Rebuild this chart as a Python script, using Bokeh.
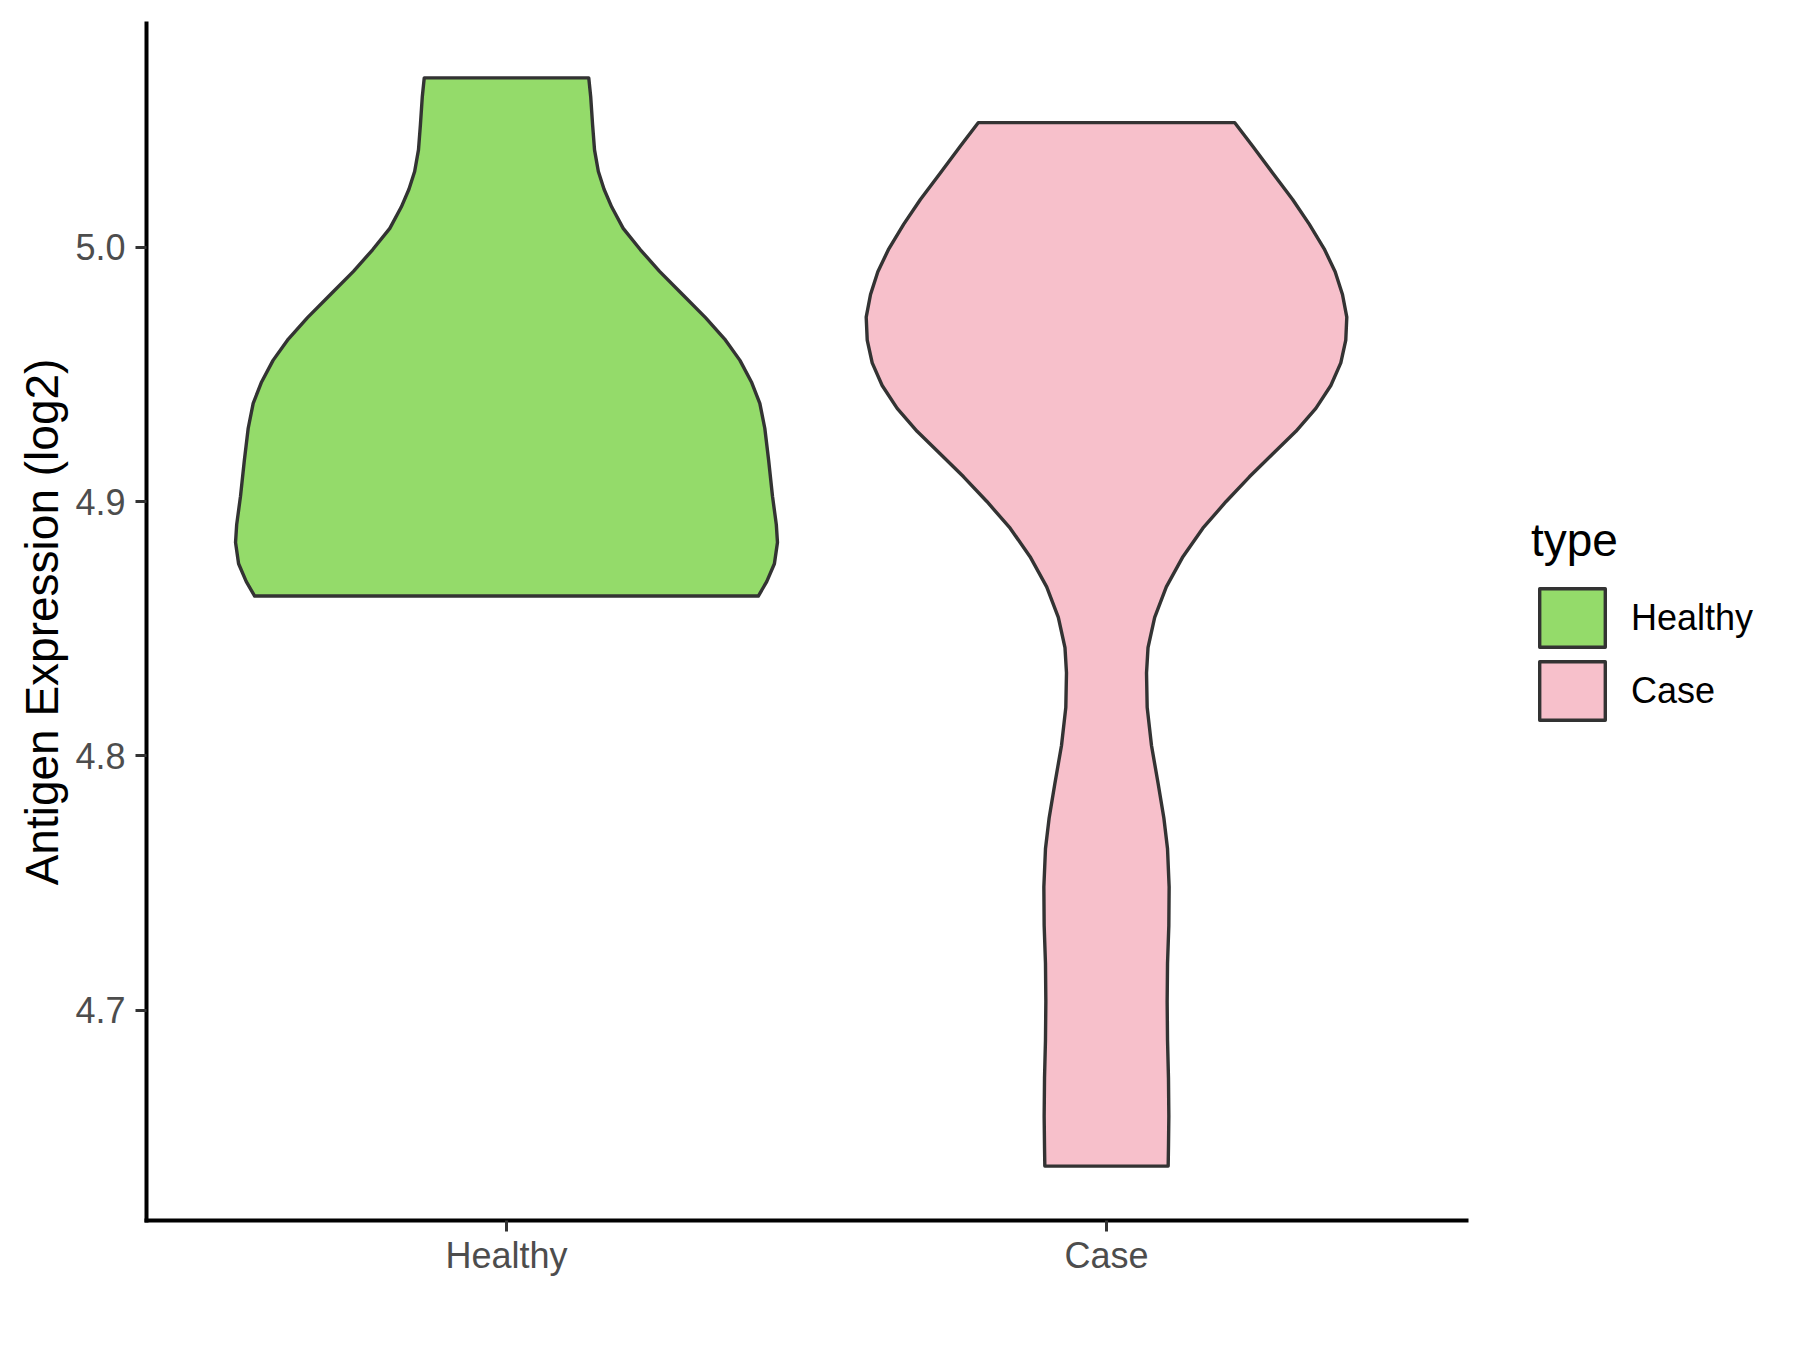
from bokeh.plotting import figure
from bokeh.models import Range1d, FixedTicker, Legend, LegendItem
from bokeh.embed import file_html
from bokeh.resources import INLINE

# ---------------- data ----------------
categories = ["Healthy", "Case"]
cat_pos = [1, 2]
fill_colors = ["#94DB6A", "#F7C0CB"]

# Healthy violin: expression levels (top -> bottom) and half-widths (x units)
healthy_y = [5.0667, 5.0594, 5.0482, 5.0384, 5.0299, 5.0229, 5.0159, 5.0075,
             4.9991, 4.9906, 4.9815, 4.9724, 4.9640, 4.9556, 4.9471, 4.9387,
             4.9289, 4.9163, 4.9022, 4.8910, 4.8840, 4.8756, 4.8686, 4.8629]
healthy_hw = [0.1371, 0.1403, 0.1435, 0.1467, 0.1531, 0.1626, 0.1754, 0.1945,
              0.2232, 0.2551, 0.2934, 0.3317, 0.3636, 0.3891, 0.4082, 0.4222,
              0.4305, 0.4369, 0.4433, 0.4497, 0.4516, 0.4465, 0.4337, 0.4197]

# Case violin
case_y = [5.0491, 5.0398, 5.0293, 5.0189, 5.0092, 4.9995, 4.9905, 4.9815,
          4.9726, 4.9636, 4.9546, 4.9457, 4.9367, 4.9277, 4.9188, 4.9098,
          4.9001, 4.8896, 4.8784, 4.8665, 4.8545, 4.8426, 4.8327, 4.8191,
          4.8041, 4.7891, 4.7756, 4.7635, 4.7485, 4.7334, 4.7184, 4.7034,
          4.6883, 4.6733, 4.6583, 4.6462, 4.6387]
case_hw = [0.2138, 0.2437, 0.2769, 0.3102, 0.3379, 0.3628, 0.3811, 0.3933,
           0.4005, 0.3988, 0.3905, 0.3739, 0.3489, 0.3157, 0.2769, 0.2382,
           0.1994, 0.1606, 0.1274, 0.0997, 0.0803, 0.0692, 0.0667, 0.0678,
           0.0750, 0.0861, 0.0956, 0.1017, 0.1044, 0.1039, 0.1017, 0.1011,
           0.1017, 0.1033, 0.1039, 0.1033, 0.1028]

y_ticks = [4.7, 4.8, 4.9, 5.0]
y_tick_labels = ["4.7", "4.8", "4.9", "5.0"]
y_title = "Antigen Expression (log2)"
legend_title = "type"

# ---------------- ranges (ggplot-like expansion) ----------------
all_y = healthy_y + case_y
ymin, ymax = min(all_y), max(all_y)
pad = 0.05 * (ymax - ymin)

FONT = "Liberation Sans"

p = figure(frame_width=1320, frame_height=1197,
           x_range=Range1d(0.4, 2.6), y_range=Range1d(ymin - pad, ymax + pad),
           output_backend="svg", toolbar_location=None,
           min_border_left=146, min_border_right=0,
           min_border_top=23, min_border_bottom=114)
p.background_fill_color = "white"
p.border_fill_color = "white"
p.outline_line_color = None
p.grid.visible = False


def outline(center, ys, hws):
    xs = [center + w for w in hws] + [center - w for w in reversed(hws)]
    yy = list(ys) + list(reversed(ys))
    return xs, yy


renderers = []
for c, ys, hws, col in zip(cat_pos, [healthy_y, case_y], [healthy_hw, case_hw], fill_colors):
    xs, yy = outline(c, ys, hws)
    r = p.patch(xs, yy, fill_color=col, line_color="#333333", line_width=3.4,
                line_join="round")
    renderers.append(r)

# axes
for ax in (p.xaxis[0], p.yaxis[0]):
    ax.axis_line_color = "black"
    ax.axis_line_width = 4
    ax.axis_line_cap = "square"
    ax.major_tick_line_color = "#333333"
    ax.major_tick_line_width = 3
    ax.major_tick_out = 11
    ax.major_tick_in = 0
    ax.minor_tick_line_color = None
    ax.major_label_text_font = FONT
    ax.major_label_text_font_size = "36px"
    ax.major_label_text_color = "#4D4D4D"

p.xaxis.ticker = FixedTicker(ticks=cat_pos)
p.xaxis.major_label_overrides = {c: n for c, n in zip(cat_pos, categories)}
p.xaxis.major_label_standoff = 3

p.yaxis.ticker = FixedTicker(ticks=y_ticks)
p.yaxis.major_label_overrides = {t: l for t, l in zip(y_ticks, y_tick_labels)}
p.yaxis.major_label_standoff = 10
p.yaxis.axis_label = y_title
p.yaxis.axis_label_text_font = FONT
p.yaxis.axis_label_text_font_size = "46px"
p.yaxis.axis_label_text_font_style = "normal"
p.yaxis.axis_label_text_color = "black"
p.yaxis.axis_label_standoff = 4

legend = Legend(items=[LegendItem(label=n, renderers=[r]) for n, r in zip(categories, renderers)],
                location=(65, 493), title=legend_title,
                title_text_font=FONT, title_text_font_size="46px",
                title_text_font_style="normal", title_text_color="black",
                title_standoff=14,
                label_text_font=FONT, label_text_font_size="36px", label_text_color="black",
                glyph_width=82, glyph_height=73, spacing=0, label_standoff=18,
                padding=0, margin=0, border_line_color=None, background_fill_alpha=0)
p.add_layout(legend, "right")

open("out.html", "w").write(file_html(p, INLINE))
